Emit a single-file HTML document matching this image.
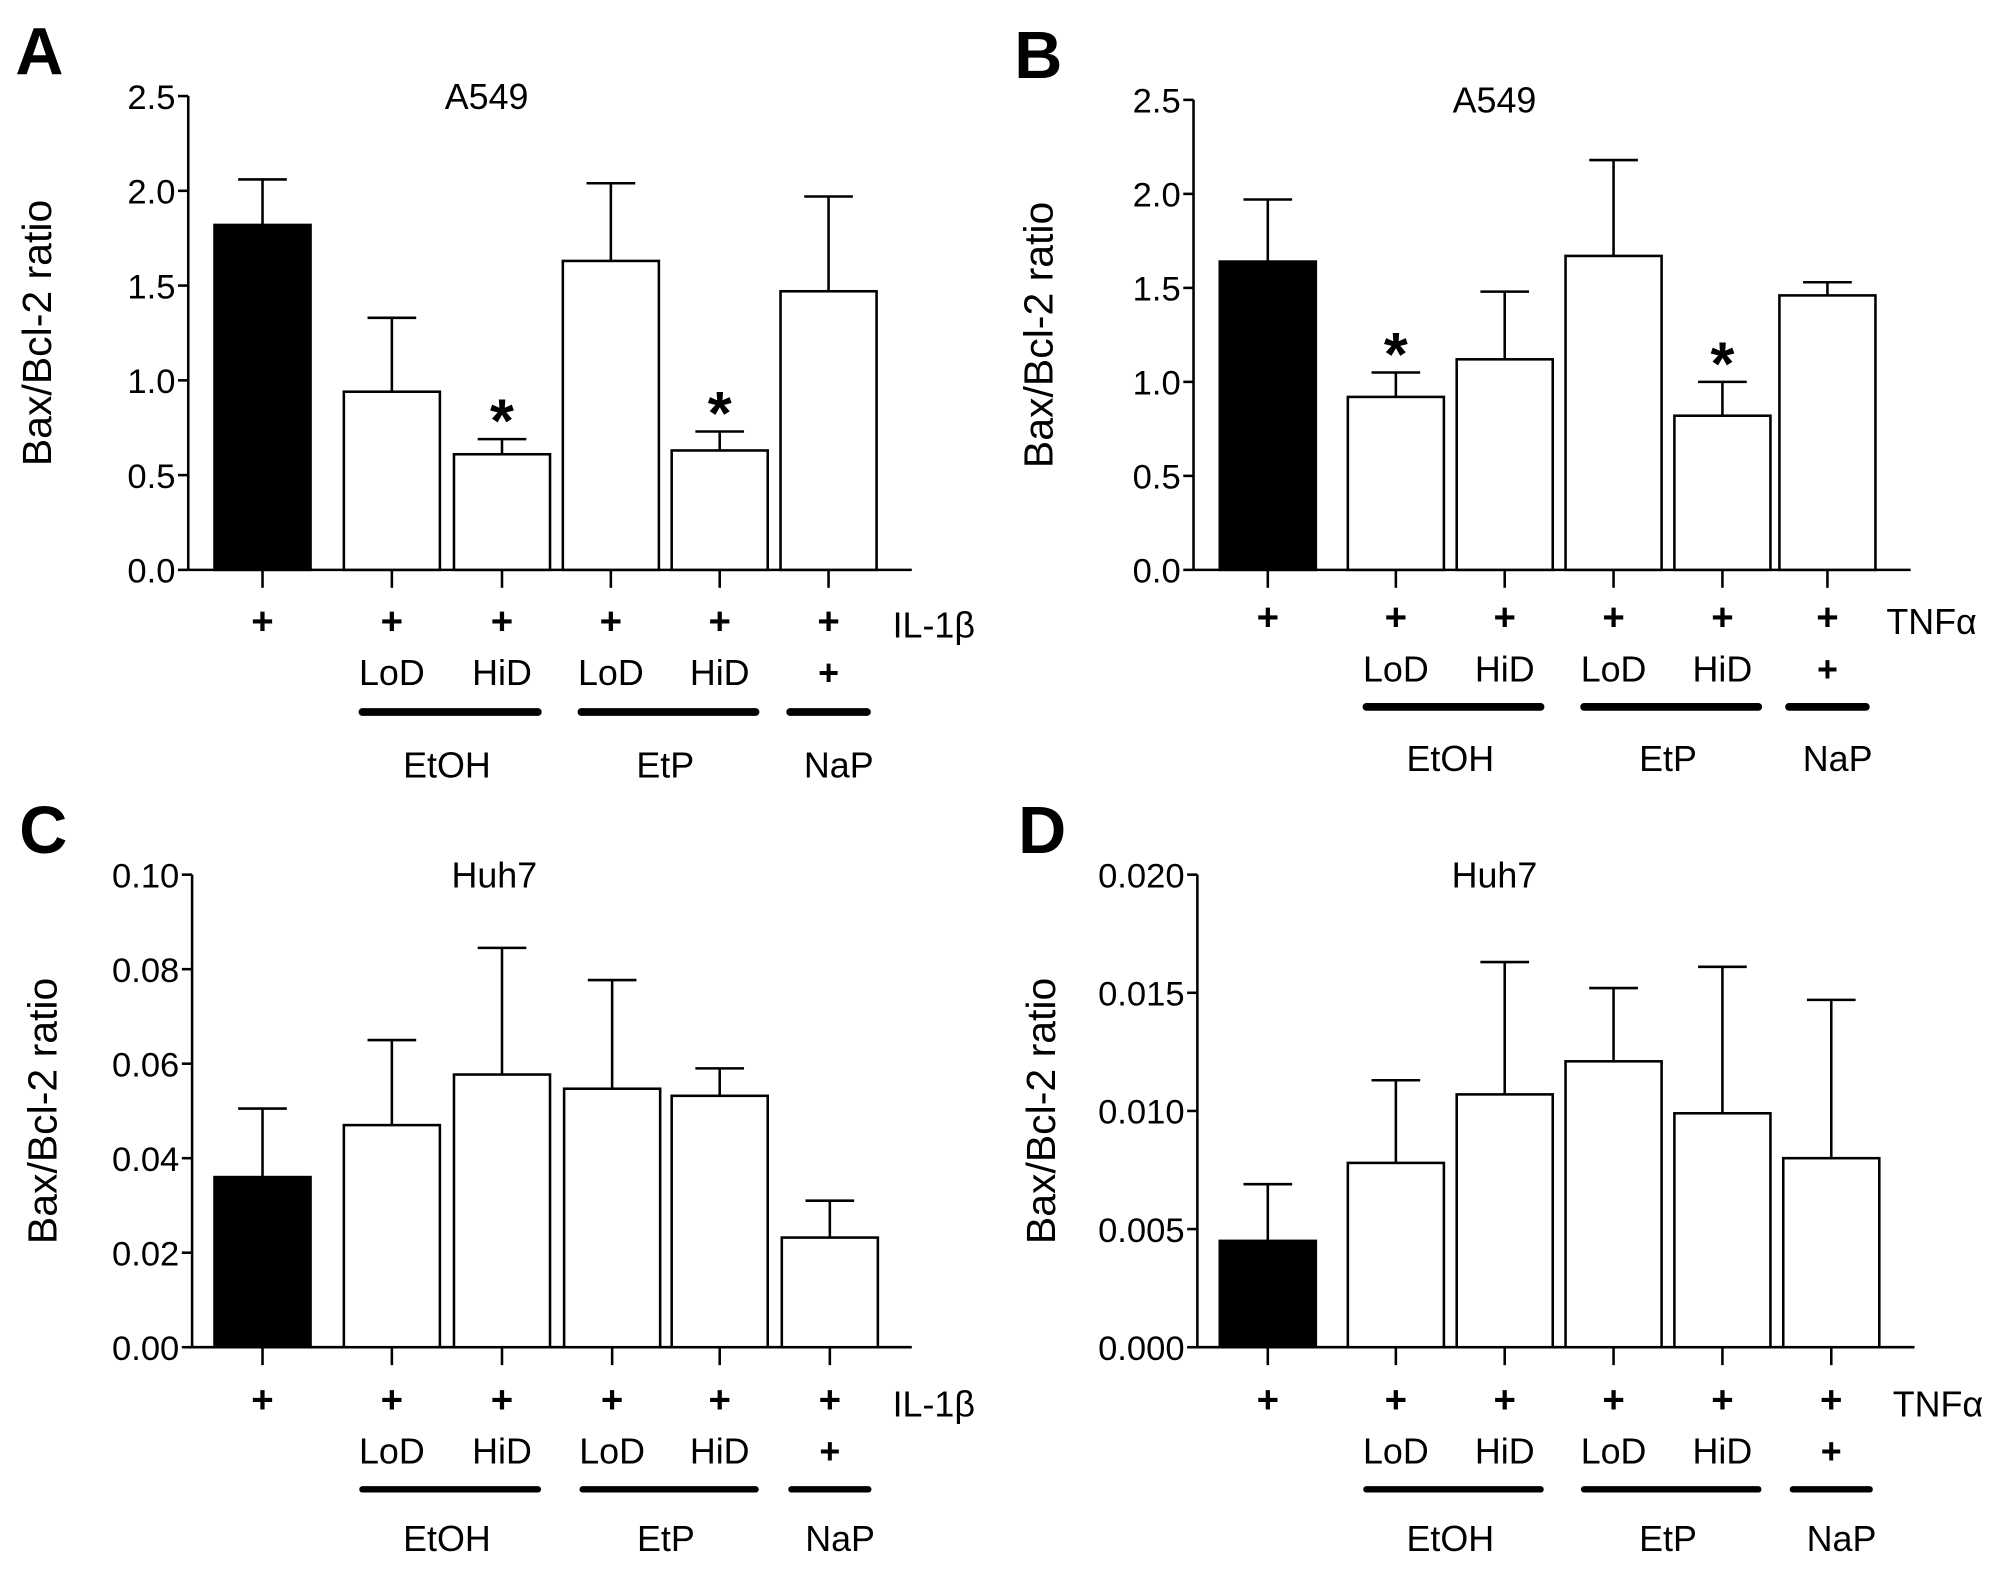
<!DOCTYPE html>
<html><head><meta charset="utf-8"><style>
html,body{margin:0;padding:0;background:#fff;}
svg{display:block;font-family:"Liberation Sans",Arial,sans-serif;}
</style></head><body>
<svg id="fig" width="2008" height="1579" viewBox="0 0 1568 1233" xmlns="http://www.w3.org/2000/svg"></svg>
<script>
// Panel A data (A549, IL-1β)
const aValues = [1.82, 0.94, 0.61, 1.63, 0.63, 1.47];
const aErrors = [2.06, 1.33, 0.69, 2.04, 0.73, 1.97];
const aTicks = ["0.0","0.5","1.0","1.5","2.0","2.5"];
const aStars = [false, false, true, false, true, false];
// Panel B data (A549, TNFα)
const bValues = [1.64, 0.92, 1.12, 1.67, 0.82, 1.46];
const bErrors = [1.97, 1.05, 1.48, 2.18, 1.00, 1.53];
const bTicks = ["0.0","0.5","1.0","1.5","2.0","2.5"];
const bStars = [false, true, false, false, true, false];
// Panel C data (Huh7, IL-1β)
const cValues = [0.036, 0.047, 0.0577, 0.0547, 0.0532, 0.0232];
const cErrors = [0.0505, 0.065, 0.0845, 0.0777, 0.059, 0.031];
const cTicks = ["0.00","0.02","0.04","0.06","0.08","0.10"];
const cStars = [false, false, false, false, false, false];
// Panel D data (Huh7, TNFα)
const dValues = [0.0045, 0.0078, 0.0107, 0.0121, 0.0099, 0.0080];
const dErrors = [0.0069, 0.0113, 0.0163, 0.0152, 0.0161, 0.0147];
const dTicks = ["0.000","0.005","0.010","0.015","0.020"];
const dStars = [false, false, false, false, false, false];

const NS = "http://www.w3.org/2000/svg";
const svg = document.getElementById("fig");
function mk(tag, attrs, parent, text){
  const e = document.createElementNS(NS, tag);
  for (const k in attrs) e.setAttribute(k, attrs[k]);
  if (text !== undefined) e.textContent = text;
  (parent || svg).appendChild(e);
  return e;
}

function panel(o){
  const g = mk("g", {});
  
  
  const ticks = o.ticks.map(Number);
  const ymax = ticks[ticks.length-1];
  const yS = v => o.y0 - (v / ymax) * (o.y0 - o.yTop);
  const xS = i => o.centers[i];
  const L = mk("text", {x:o.ax-135+o.letterDx, y:o.yTop-17, "font-size":52, "font-weight":"bold"}, g, o.letter);
  
  
  const T = mk("text", {x:o.titleX, y:o.yTop+10, "font-size":28, "text-anchor":"middle"}, g, o.title);
  
  
  const yl = mk("text", {x:0, y:0, "font-size":32, "text-anchor":"middle", transform:`translate(${o.ylabX},${(o.y0+o.yTop)/2}) rotate(-90)`}, g, "Bax/Bcl-2 ratio");
  
  
  const ya = mk("line", {x1:o.ax, y1:o.yTop, x2:o.ax, y2:o.y0, stroke:"#000", "stroke-width":2}, g);
  
  
  ticks.forEach((v,i)=>{
    const y = yS(v);
    mk("line", {x1:o.ax-8, y1:y, x2:o.ax, y2:y, stroke:"#000", "stroke-width":2}, g);
    const t = mk("text", {x:o.ax-10, y:y+10, "font-size":27, "text-anchor":"end"}, g, o.ticks[i]);
    
    
  });
  const xa = mk("line", {x1:o.ax, y1:o.y0, x2:o.xEnd, y2:o.y0, stroke:"#000", "stroke-width":2}, g);
  
  
  const bw = 75;
  o.values.forEach((v,i)=>{
    const cx = xS(i);
    mk("line", {x1:cx, y1:o.y0, x2:cx, y2:o.y0+14, stroke:"#000", "stroke-width":2}, g);
    const ye = yS(o.errors[i]);
    const e1 = mk("line", {x1:cx, y1:yS(v), x2:cx, y2:ye, stroke:"#000", "stroke-width":2}, g);
    
    
    mk("line", {x1:cx-19, y1:ye, x2:cx+19, y2:ye, stroke:"#000", "stroke-width":2}, g);
    const r = mk("rect", {x:cx-bw/2, y:yS(v), width:bw, height:o.y0-yS(v), fill:i===0?"#000":"#fff", stroke:"#000", "stroke-width":2}, g);
    
    
    if (o.stars[i]) {
      const s = mk("text", {x:cx, y:ye+2, "font-size":48, "font-weight":"bold", "text-anchor":"middle"}, g, "*");
      
      
    }
    const p = mk("text", {x:cx, y:o.plusY+2, "font-size":30, "font-weight":"bold", "text-anchor":"middle"}, g, "+");
    
    
  });
  const st = mk("text", {x:o.stimX, y:o.plusY+5, "font-size":28}, g, o.stim);
  
  
  const dose = ["LoD","HiD","LoD","HiD","+"];
  dose.forEach((d,k)=>{
    const t = mk("text", {x:xS(k+1), y:o.doseY+1, "font-size": d==="+"?28:28, "font-weight": d==="+"?"bold":"normal", "text-anchor":"middle"}, g, d);
    
    
  });
  const groups = [["EtOH",1,2],["EtP",3,4],["NaP",5,5]];
  groups.forEach(([name,a,b])=>{
    const x1 = a===b ? xS(a)-30 : xS(a)-23, x2 = a===b ? xS(b)+30 : xS(b)+28;
    const l = mk("line", {x1:x1, y1:o.barY, x2:x2, y2:o.barY, stroke:"#000", "stroke-width":o.lineW, "stroke-linecap":"round"}, g);
    
    
    const t = mk("text", {x:(xS(a)+xS(b))/2+(a===b?8:0), y:o.groupY+1, "font-size":28, "text-anchor":"middle"}, g, name);
    
    
  });
}

panel({letter:"A", title:"A549", titleX:380, ax:147, yTop:75, y0:445, xEnd:712, ylabX:40, letterDx:0,
  centers:[205,306,392,477,562,647], values:aValues, errors:aErrors, ticks:aTicks, stars:aStars,
  plusY:493, doseY:534, barY:556, lineW:6, groupY:606, stim:"IL-1β", stimX:697});
panel({letter:"B", title:"A549", titleX:1167, ax:932, yTop:78, y0:445, xEnd:1492, ylabX:822, letterDx:-5,
  centers:[990,1090,1175,1260,1345,1427], values:bValues, errors:bErrors, ticks:bTicks, stars:bStars,
  plusY:490, doseY:531, barY:552, lineW:6, groupY:601, stim:"TNFα", stimX:1473});
panel({letter:"C", title:"Huh7", titleX:386, ax:150, yTop:683, y0:1052, xEnd:712, ylabX:44, letterDx:0,
  centers:[205,306,392,478,562,648], values:cValues, errors:cErrors, ticks:cTicks, stars:cStars,
  plusY:1101, doseY:1142, barY:1163, lineW:5, groupY:1210, stim:"IL-1β", stimX:697});
panel({letter:"D", title:"Huh7", titleX:1167, ax:935, yTop:683, y0:1052, xEnd:1495, ylabX:824, letterDx:-5,
  centers:[990,1090,1175,1260,1345,1430], values:dValues, errors:dErrors, ticks:dTicks, stars:dStars,
  plusY:1101, doseY:1142, barY:1163, lineW:5, groupY:1210, stim:"TNFα", stimX:1478});
</script>
</body></html>
